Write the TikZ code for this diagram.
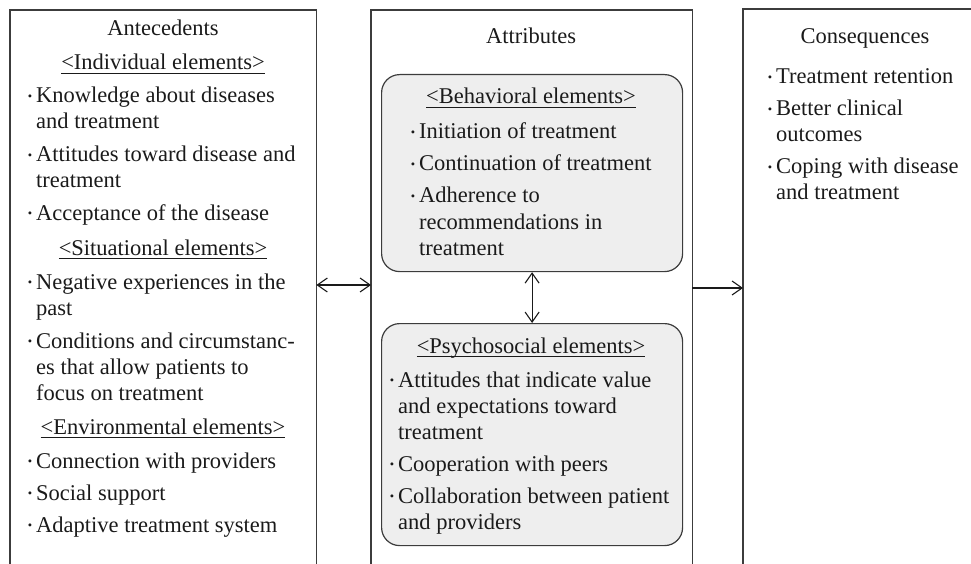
\documentclass[tikz,border=0pt]{standalone}
\usepackage{fontspec}
\usepackage{graphicx}
\setmainfont{Liberation Serif}
\usetikzlibrary{arrows.meta}
\definecolor{ink}{HTML}{1A1A1A}
\definecolor{edge}{HTML}{3C3C3C}
\definecolor{boxfill}{HTML}{EEEEEE}
\newcommand\bul{\makebox[0pt][r]{\raisebox{0.12em}{\scalebox{0.55}{\textbullet}}\hspace{4pt}}}
\newcommand\hdul[1]{\setbox0\hbox{#1}\rlap{\rule[-4pt]{\wd0}{0.8pt}}\box0}
\tikzset{
  frame/.style={draw=none, inner sep=0pt, anchor=north west},
  frameline/.style={draw=edge, line width=1.2pt},
  rbox/.style={draw=edge, fill=boxfill, line width=1.2pt, rounded corners=18pt, inner sep=0pt, anchor=north west},
  item/.style={inner sep=0pt, anchor=base west, font=\fontsize{22.5}{26}\selectfont, text=ink},
  head/.style={inner sep=0pt, anchor=base, font=\fontsize{22.5}{26}\selectfont, text=ink},
  conn/.style={draw=ink, line width=1.1pt},
  >={Straight Barb[length=10pt,width=14pt]}
}
\begin{document}
\begin{tikzpicture}[x=1pt,y=-1pt]
\useasboundingbox (0,0) rectangle (971,564);
% frames
\node[frame, minimum width=306pt, minimum height=600pt] (ante) at (10,10) {};
\node[frame, minimum width=321pt, minimum height=600pt] (attr) at (371,10) {};
\node[frame, minimum width=260pt, minimum height=600pt] (cons) at (743,9) {};
\draw[frameline] (ante.south west) -- (ante.north west) -- (ante.north east) -- (ante.south east);
\draw[frameline] (attr.south west) -- (attr.north west) -- (attr.north east) -- (attr.south east);
\draw[frameline] (cons.south west) -- (cons.north west) -- (cons.north east);
% rounded boxes
\node[rbox, minimum width=301pt, minimum height=197pt] (beh) at (381,74) {};
\node[rbox, minimum width=301pt, minimum height=222pt] (psy) at (381,323) {};
% left column
\node[head] (tA) at (163,36) {Antecedents};
\node[head] (hI) at (163,70) {\hdul{<Individual elements>}};
\node[item] (a1) at (36,103) {\bul\parbox[t]{300pt}{Knowledge about diseases\\and treatment}};
\node[item] (a2) at (36,162) {\bul\parbox[t]{300pt}{Attitudes toward disease and\\treatment}};
\node[item] (a3) at (36,220) {\bul Acceptance of the disease};
\node[head] (hS) at (163,255) {\hdul{<Situational elements>}};
\node[item] (a4) at (36,289) {\bul\parbox[t]{300pt}{Negative experiences in the\\past}};
\node[item] (a5) at (36,348) {\bul\parbox[t]{300pt}{Conditions and circumstanc-\\es that allow patients to\\focus on treatment}};
\node[head] (hE) at (163,434) {\hdul{<Environmental elements>}};
\node[item] (a6) at (36,468) {\bul Connection with providers};
\node[item] (a7) at (36,500) {\bul Social support};
\node[item] (a8) at (36,532) {\bul Adaptive treatment system};
% middle column
\node[head] (tB) at (531,44) {Attributes};
\node[head] (hB) at (531,104) {\hdul{<Behavioral elements>}};
\node[item] (b1) at (419,139) {\bul Initiation of treatment};
\node[item] (b2) at (419,171) {\bul Continuation of treatment};
\node[item] (b3) at (419,203) {\bul\parbox[t]{300pt}{Adherence to\\recommendations in\\treatment}};
\node[head] (hP) at (531,353) {\hdul{<Psychosocial elements>}};
\node[item] (p1) at (398,387) {\bul\parbox[t]{300pt}{Attitudes that indicate value\\and expectations toward\\treatment}};
\node[item] (p2) at (398,471) {\bul Cooperation with peers};
\node[item] (p3) at (398,503) {\bul\parbox[t]{300pt}{Collaboration between patient\\and providers}};
% right column
\node[head] (tC) at (865,44) {Consequences};
\node[item] (c1) at (776,84) {\bul Treatment retention};
\node[item] (c2) at (776,116) {\bul\parbox[t]{200pt}{Better clinical\\outcomes}};
\node[item] (c3) at (776,174) {\bul\parbox[t]{200pt}{Coping with disease\\and treatment}};
% connectors
\coordinate (yl) at (0,285);
\coordinate (yr) at (0,288);
\draw[conn, <->] (ante.east |- yl) -- (attr.west |- yl);
\draw[conn, ->] (attr.east |- yr) -- (cons.west |- yr);
\draw[conn, <->] (beh.south) -- (psy.north);
\end{tikzpicture}
\end{document}
